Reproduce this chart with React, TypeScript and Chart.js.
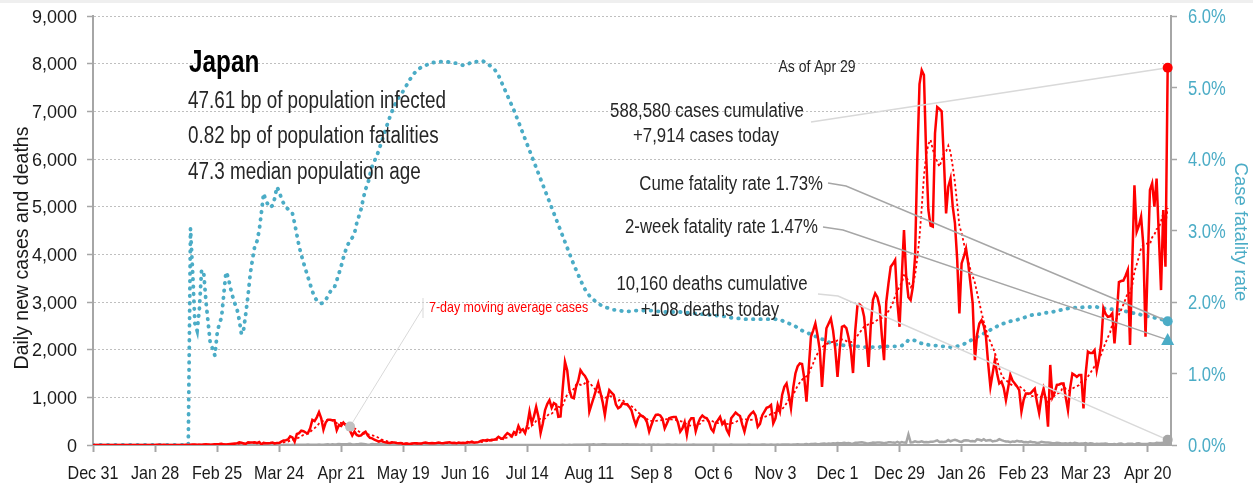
import React, { useEffect, useRef } from "react";
import { Chart, registerables } from "chart.js";

Chart.register(...registerables);

// ---------------- DATA (day 0 = Dec 31, 2019; last day = Apr 29, 2021) ----------------
const TICK_LABELS = [
  "Dec 31", "Jan 28", "Feb 25", "Mar 24", "Apr 21", "May 19", "Jun 16", "Jul 14", "Aug 11",
  "Sep 8", "Oct 6", "Nov 3", "Dec 1", "Dec 29", "Jan 26", "Feb 23", "Mar 23", "Apr 20",
];
const TICK_STEP_DAYS = 28;

// Daily new cases
const DAILY_CASES = [
  0, 0, 0, 0, 0, 0, 0, 0, 0, 0, 0, 0, 0, 0, 0, 0, 0, 0, 0, 0, 0,
  0, 0, 0, 1, 1, 0, 2, 1, 4, 3, 2, 3, 1, 1, 0, 0, 0, 1, 0, 0, 0, 3, 1,
  5, 8, 10, 6, 7, 3, 9, 15, 12, 5, 10, 15, 17, 20, 25, 12, 9,
  14, 19, 25, 30, 34, 57, 47, 33, 26, 59, 54, 52, 55, 41, 64, 15, 44, 39, 35, 41, 53, 34, 43, 40,
  70, 95, 100, 115, 180, 160, 70, 230, 250, 300, 290, 260, 250, 350, 525,
  500, 580, 690, 560, 320, 470, 530, 530, 520, 520,
  310, 420, 400, 470, 420, 380, 300, 200, 280, 210,
  190, 200, 250, 280, 200, 150, 140, 110, 90, 70,
  90, 65, 55, 45, 40, 50, 50, 40, 35, 40,
  20, 30, 25, 20, 30, 35, 35, 30, 30, 45,
  50, 40, 35, 40, 35, 40, 50, 40, 35, 45,
  50, 55, 40, 45, 35, 50, 40, 45, 40, 60,
  55, 70, 50, 55, 60, 85, 100, 95, 110, 95,
  110, 110, 130, 170, 140, 130, 200, 250, 220, 180,
  270, 240, 400, 300, 330, 250, 420, 700, 460, 600,
  800, 600, 250, 450, 730, 860, 940, 780, 880, 850,
  590, 600, 1200, 1745, 1570, 1150, 1000, 980, 1220, 1350,
  1570, 1500, 1450, 1360, 700, 850, 1000, 1150, 1300, 1100,
  900, 630, 950, 1150, 1100, 1050, 850, 770, 800, 880,
  860, 850, 800, 730, 560, 420, 560, 630, 600, 570,
  480, 280, 420, 550, 630, 640, 620, 550, 350, 450,
  560, 580, 590, 590, 470, 280, 350, 480, 210, 490,
  560, 560, 290, 450, 560, 620, 580, 560, 480, 340,
  280, 460, 520, 590, 440, 500, 320, 230, 560, 620,
  680, 640, 610, 430, 280, 480, 600, 660, 700, 620,
  380, 440, 620, 700, 780, 800, 840, 455, 560, 840,
  700, 1050, 1220, 1290, 1050, 770, 1200, 1500, 1650, 1710,
  1700, 1400, 910, 1600, 2270, 2400, 2550, 2300, 1990, 1220,
  1900, 2450, 2550, 2650, 2400, 2000, 1430, 2000, 2480, 2500,
  2450, 2250, 2000, 1510, 2400, 2930, 2950, 2900, 2690, 2200,
  1640, 2500, 3040, 3180, 3100, 2900, 2300, 1780, 3000, 3390,
  3740, 3800, 3880, 3000, 2480, 3530, 4510, 3530, 3100, 3040,
  3320, 3950, 6000, 7570, 7860, 7760, 6100, 4930, 4600, 4580,
  6540, 7090, 7050, 7000, 6000, 4860, 5420, 5590, 5000, 4650,
  3900, 2760, 3810, 3950, 4120, 3800, 3390, 2970, 1780, 2320,
  2550, 2620, 2500, 2270, 1700, 1220, 1500, 1780, 1500, 1290,
  1330, 1200, 940, 1200, 1470, 1350, 1290, 1230, 1150, 700,
  950, 1080, 1080, 1080, 1130, 1180, 900, 670, 1000, 1180,
  940, 385, 1680, 1000, 1100, 1260, 1270, 1290, 1290, 1000,
  730, 1200, 1500, 1470, 1430, 1470, 1470, 770, 1500, 1960,
  1930, 1930, 1990, 1570, 1800, 2130, 2870, 2750, 2690, 2700,
  2760, 2130, 2700, 3420, 3440, 3450, 3550, 3670, 2100, 3800,
  5450, 4470, 4600, 4790, 4200, 2270, 3800, 5350, 5490, 5000,
  5590, 4400, 3250, 4930, 3740, 7914,
];

// Daily new deaths
const DAILY_DEATHS = [
  0, 0, 0, 0, 0, 0, 0, 0, 0, 0, 0, 0, 0, 0, 0, 0, 0, 0, 0, 0, 0, 0,
  0, 0, 0, 0, 0, 0, 0, 0, 0, 0, 0, 0, 0, 0, 0, 0, 0, 0, 0, 0, 0, 0,
  1, 0, 0, 0, 0, 0, 0, 1, 0, 1, 0, 0, 1, 1, 0, 1, 2,
  1, 0, 2, 0, 0, 0, 0, 1, 2, 2, 0, 2, 1, 0, 0, 1, 1, 1, 1, 2, 3, 1, 1, 2, 2, 2, 4, 5, 1, 5, 3,
  4, 6, 3, 5, 3, 8, 5, 4, 5, 6, 10, 6, 5, 9, 13, 7, 16, 12, 14, 20, 18, 15, 18, 21, 27, 12, 9, 17, 19, 26,
  22, 15, 7, 11, 20, 14, 16, 27, 21, 13, 14, 12, 9, 16, 5, 13, 8, 6, 11, 5, 4, 9, 3, 7, 2, 3, 5, 2, 3, 4, 1,
  1, 3, 1, 2, 0, 1, 2, 1, 3, 0, 1, 1, 0, 2, 0, 1, 1, 0, 2, 1, 0, 1, 0, 1, 2, 0, 0, 1, 0, 1,
  1, 0, 2, 0, 0, 1, 2, 0, 1, 1, 0, 0, 1, 0, 2, 1, 0, 0, 1, 1, 0, 0, 1, 1, 2, 0, 1, 2, 2, 3, 1,
  2, 3, 2, 4, 5, 4, 6, 5, 6, 8, 10, 9, 13, 6, 10, 12, 14, 16, 12, 10, 12, 9, 13, 11, 8, 14, 9, 15, 11, 9, 12,
  9, 8, 7, 11, 8, 7, 10, 6, 9, 7, 8, 6, 5, 7, 9, 10, 5, 4, 8, 6, 7, 5, 3, 6, 5, 7, 8, 4, 6, 5,
  6, 4, 7, 5, 3, 6, 8, 5, 7, 4, 6, 5, 7, 8, 5, 6, 3, 4, 7, 5, 6, 8, 5, 6, 4, 7, 6, 9, 8, 7, 6,
  9, 5, 6, 8, 7, 10, 9, 8, 12, 6, 9, 11, 14, 10, 12, 15, 20, 13, 19, 22, 24, 18, 21, 26, 31, 23, 32, 27, 35, 30,
  41, 38, 35, 45, 39, 42, 30, 28, 48, 45, 50, 55, 48, 38, 33, 40, 52, 49, 51, 54, 46, 38, 45, 56, 58, 50, 46, 64, 45, 60, 50,
  48, 220, 55, 59, 76, 65, 64, 78, 59, 62, 60, 70, 66, 80, 98, 64, 70, 64, 72, 104, 78, 97, 108, 95, 73, 65, 93, 98, 97, 77, 82,
  74, 120, 110, 94, 121, 89, 98, 105, 74, 86, 91, 122, 102, 87, 75, 73, 61, 75, 68, 86, 72, 80, 58, 61, 52, 70, 59, 58,
  43, 45, 67, 59, 52, 54, 46, 36, 39, 46, 40, 31, 33, 35, 28, 43, 27, 46, 36, 25, 29, 30, 42, 24, 34, 31, 18, 25, 22, 26, 25,
  33, 20, 17, 17, 21, 13, 24, 29, 18, 12, 28, 25, 25, 10, 31, 37, 20, 22, 22, 22, 35, 34, 30, 45, 41, 40, 47, 55, 108,
];

// Cumulative case fatality rate, percent
const CASE_FATALITY_PCT = [
  0, 0, 0, 0, 0, 0, 0, 0, 0, 0, 0, 0, 0, 0, 0, 0, 0, 0, 0, 0, 0, 0,
  0, 0, 0, 0, 0, 0, 0, 0, 0, 0, 0, 0, 0, 0, 0, 0, 0, 0, 0, 0, 0, 0,
  3.03, 2.4, 1.7, 1.6, 1.9, 2.45,
  2.4, 2.0, 1.7, 1.4, 1.35, 1.25, 1.55, 1.7, 1.78, 2.1,
  2.42, 2.35, 2.2, 2.08, 1.98, 1.9, 1.75, 1.55, 1.62, 1.85,
  2.1, 2.4, 2.6, 2.78, 2.85, 3.0, 3.25, 3.52, 3.42, 3.36,
  3.32, 3.35, 3.45, 3.61, 3.55, 3.45, 3.38, 3.33, 3.3, 3.27,
  3.24, 3.1, 2.94, 2.78, 2.66, 2.55, 2.45, 2.35, 2.25, 2.15,
  2.07, 2.02, 1.99, 1.98, 1.99, 2.03, 2.08, 2.14, 2.19, 2.21,
  2.3, 2.4, 2.5, 2.62, 2.72, 2.8, 2.86, 2.9, 2.96, 3.1,
  3.2, 3.3, 3.45, 3.58, 3.65, 3.78, 3.9, 3.97, 4.04, 4.12,
  4.22, 4.31, 4.41, 4.5, 4.59, 4.67, 4.74, 4.81, 4.86, 4.91,
  4.95, 5.0, 5.06, 5.11, 5.16, 5.2, 5.23, 5.26, 5.28, 5.29,
  5.31, 5.32, 5.34, 5.35, 5.35, 5.36, 5.36, 5.36, 5.36, 5.36,
  5.36, 5.35, 5.35, 5.34, 5.34, 5.33, 5.32, 5.31, 5.31, 5.32,
  5.34, 5.36, 5.36, 5.36, 5.36, 5.37, 5.37, 5.35, 5.33, 5.31,
  5.29, 5.26, 5.22, 5.17, 5.1, 5.03, 4.96, 4.89, 4.82, 4.75,
  4.68, 4.6, 4.52, 4.44, 4.36, 4.28, 4.2, 4.12, 4.04, 3.96,
  3.88, 3.8, 3.72, 3.64, 3.56, 3.48, 3.4, 3.32, 3.24, 3.16,
  3.08, 3.0, 2.92, 2.84, 2.76, 2.68, 2.6, 2.52, 2.45, 2.38,
  2.31, 2.24, 2.18, 2.13, 2.09, 2.06, 2.03, 2.0, 1.98, 1.96,
  1.94, 1.93, 1.92, 1.91, 1.9, 1.89, 1.89, 1.88, 1.88, 1.87,
  1.87, 1.87, 1.87, 1.87, 1.87, 1.88, 1.88, 1.88, 1.88, 1.88,
  1.88, 1.88, 1.88, 1.87, 1.87, 1.87, 1.87, 1.87, 1.86, 1.86,
  1.86, 1.86, 1.86, 1.86, 1.86, 1.86, 1.85, 1.85, 1.85, 1.85,
  1.84, 1.84, 1.84, 1.84, 1.83, 1.83, 1.83, 1.83, 1.82, 1.82,
  1.82, 1.81, 1.81, 1.8, 1.8, 1.8, 1.79, 1.79, 1.78, 1.78,
  1.78, 1.77, 1.77, 1.77, 1.76, 1.76, 1.76, 1.76, 1.76, 1.76,
  1.76, 1.76, 1.76, 1.76, 1.76, 1.76, 1.76, 1.76, 1.76, 1.75,
  1.75, 1.74, 1.72, 1.71, 1.7, 1.69, 1.67, 1.66, 1.64, 1.62,
  1.6, 1.59, 1.58, 1.56, 1.55, 1.54, 1.52, 1.51, 1.5, 1.48,
  1.47, 1.46, 1.44, 1.42, 1.41, 1.41, 1.4, 1.4, 1.4, 1.39,
  1.39, 1.39, 1.39, 1.38, 1.38, 1.38, 1.38, 1.38, 1.37, 1.37,
  1.37, 1.37, 1.37, 1.37, 1.37, 1.37, 1.38, 1.38, 1.38, 1.38,
  1.38, 1.38, 1.38, 1.39, 1.39, 1.39, 1.41, 1.43, 1.47, 1.47,
  1.47, 1.46, 1.44, 1.43, 1.42, 1.41, 1.41, 1.4, 1.4, 1.4,
  1.39, 1.39, 1.39, 1.38, 1.38, 1.37, 1.37, 1.37, 1.37, 1.37,
  1.38, 1.39, 1.4, 1.41, 1.43, 1.44, 1.46, 1.48, 1.5, 1.51,
  1.53, 1.54, 1.56, 1.58, 1.59, 1.61, 1.63, 1.64, 1.66, 1.68,
  1.69, 1.7, 1.71, 1.72, 1.73, 1.74, 1.74, 1.75, 1.76, 1.77,
  1.78, 1.79, 1.8, 1.81, 1.82, 1.82, 1.83, 1.83, 1.84, 1.84,
  1.85, 1.85, 1.86, 1.86, 1.87, 1.87, 1.88, 1.89, 1.89, 1.9,
  1.91, 1.91, 1.91, 1.92, 1.92, 1.92, 1.92, 1.93, 1.93, 1.93,
  1.93, 1.93, 1.93, 1.93, 1.92, 1.92, 1.91, 1.91, 1.91, 1.9,
  1.9, 1.9, 1.89, 1.89, 1.88, 1.88, 1.87, 1.86, 1.86, 1.85,
  1.84, 1.84, 1.83, 1.82, 1.81, 1.81, 1.8, 1.79, 1.78, 1.78,
  1.77, 1.76, 1.76, 1.75, 1.74, 1.73,
];

const TWO_WEEK_CFR_PCT = 1.47;
const AVG_LABEL_DAY = 116;

const TITLE = "Japan";
const STATS = [
  "47.61 bp of population infected",
  "0.82 bp of population fatalities",
  "47.3 median population age",
];
const AS_OF = "As of Apr 29";
const CASES_NOTE = ["588,580 cases cumulative", "+7,914 cases today"];
const CUME_NOTE = "Cume fatality rate 1.73%";
const TWO_WEEK_NOTE = "2-week fatality rate 1.47%";
const DEATHS_NOTE = ["10,160 deaths cumulative", "+108 deaths today"];
const AVG_NOTE = "7-day moving average cases";
const LEFT_TITLE = "Daily new cases and deaths";
const RIGHT_TITLE = "Case fatality rate";

// ---------------- STYLE ----------------
const FONT = "'Liberation Sans', Arial, sans-serif";
const RED = "#ff0000";
const BLUE = "#4bacc6";
const GRAY = "#a6a6a6";
const LIGHT = "#d9d9d9";
const TEXT = "#262626";
const INK = "#1a1a1a";

function sevenDayAverage(values: number[]): number[] {
  return values.map((_, i) => {
    const from = Math.max(0, i - 6);
    const win = values.slice(from, i + 1);
    return win.reduce((a, b) => a + b, 0) / win.length;
  });
}

type TextOpts = { size: number; align?: string; color?: string; weight?: string; sx?: number; rot?: number };

function drawText(ctx: any, s: string, x: number, y: number, o: TextOpts) {
  ctx.save();
  ctx.font = `${o.weight || "normal"} ${o.size}px ${FONT}`;
  ctx.fillStyle = o.color || TEXT;
  ctx.textAlign = o.align || "left";
  ctx.textBaseline = "alphabetic";
  ctx.translate(x, y);
  if (o.rot) ctx.rotate(o.rot);
  ctx.scale(o.sx || 1, 1);
  ctx.fillText(s, 0, 0);
  ctx.restore();
}

const annotationPlugin = {
  id: "annotations",
  beforeDraw(chart: any) {
    const { ctx, width } = chart;
    ctx.save();
    ctx.fillStyle = "#efefef";
    ctx.fillRect(0, 0, width, 3);
    ctx.restore();
  },
  afterDraw(chart: any) {
    const { ctx } = chart;
    const xs = chart.scales.x;
    const ys = chart.scales.y;
    const y1 = chart.scales.y1;
    const last = DAILY_CASES.length - 1;
    const avg = sevenDayAverage(DAILY_CASES);

    // tick labels
    xs.ticks.forEach((t: any, i: number) => {
      drawText(ctx, TICK_LABELS[i], xs.getPixelForValue(t.value), 479, { size: 18.5, align: "center", color: INK, sx: 0.87 });
    });
    ys.ticks.forEach((t: any) => {
      drawText(ctx, Number(t.value).toLocaleString("en-US"), 77, ys.getPixelForValue(t.value) + 6.5, { size: 18, align: "right", color: INK });
    });
    y1.ticks.forEach((t: any) => {
      drawText(ctx, Number(t.value).toFixed(1) + "%", 1188, y1.getPixelForValue(t.value) + 7, { size: 19.5, align: "left", color: BLUE, sx: 0.85 });
    });

    const redDot = { x: xs.getPixelForValue(last), y: ys.getPixelForValue(DAILY_CASES[last]) };
    const cfrDot = { x: xs.getPixelForValue(last), y: y1.getPixelForValue(CASE_FATALITY_PCT[last]) };
    const triDot = { x: xs.getPixelForValue(last), y: y1.getPixelForValue(TWO_WEEK_CFR_PCT) };
    const deathDot = { x: xs.getPixelForValue(last), y: ys.getPixelForValue(DAILY_DEATHS[last]) };
    const avgDot = { x: xs.getPixelForValue(AVG_LABEL_DAY), y: ys.getPixelForValue(avg[AVG_LABEL_DAY]) };

    const line = (pts: number[][], color: string, w = 1.5) => {
      ctx.save();
      ctx.strokeStyle = color;
      ctx.lineWidth = w;
      ctx.beginPath();
      ctx.moveTo(pts[0][0], pts[0][1]);
      for (let i = 1; i < pts.length; i++) ctx.lineTo(pts[i][0], pts[i][1]);
      ctx.stroke();
      ctx.restore();
    };

    // leader lines
    line([[811, 122], [redDot.x, redDot.y]], LIGHT);
    line([[828, 183], [846, 186], [cfrDot.x, cfrDot.y]], GRAY);
    line([[823, 227], [843, 230], [triDot.x, triDot.y]], GRAY);
    line([[818, 294], [838, 296], [deathDot.x, deathDot.y]], LIGHT);
    line([[avgDot.x, avgDot.y], [423, 308]], LIGHT, 1);
    line([[423, 298], [423, 318]], LIGHT, 1);

    const circle = (p: any, r: number, color: string) => {
      ctx.save();
      ctx.fillStyle = color;
      ctx.beginPath();
      ctx.arc(p.x, p.y, r, 0, Math.PI * 2);
      ctx.fill();
      ctx.restore();
    };
    circle(avgDot, 5, "#c0c0c0");
    circle(deathDot, 5, GRAY);
    circle(cfrDot, 5, BLUE);
    circle(redDot, 5, RED);
    ctx.save();
    ctx.fillStyle = BLUE;
    ctx.beginPath();
    ctx.moveTo(triDot.x, triDot.y - 7);
    ctx.lineTo(triDot.x + 6.5, triDot.y + 5);
    ctx.lineTo(triDot.x - 6.5, triDot.y + 5);
    ctx.closePath();
    ctx.fill();
    ctx.restore();

    drawText(ctx, TITLE, 189, 72, { size: 32, weight: "bold", color: "#000", sx: 0.76 });
    drawText(ctx, STATS[0], 188, 108, { size: 23, sx: 0.82 });
    drawText(ctx, STATS[1], 188, 143, { size: 23, sx: 0.82 });
    drawText(ctx, STATS[2], 188, 179, { size: 23, sx: 0.82 });

    drawText(ctx, AS_OF, 817, 72, { size: 16.5, align: "center", sx: 0.85 });
    drawText(ctx, CASES_NOTE[0], 707, 117, { size: 19.5, align: "center", sx: 0.86 });
    drawText(ctx, CASES_NOTE[1], 706, 142, { size: 19.5, align: "center", sx: 0.86 });
    drawText(ctx, CUME_NOTE, 823, 190, { size: 19.5, align: "right", sx: 0.86 });
    drawText(ctx, TWO_WEEK_NOTE, 818, 233, { size: 19.5, align: "right", sx: 0.86 });
    drawText(ctx, DEATHS_NOTE[0], 712, 290, { size: 19.5, align: "center", sx: 0.86 });
    drawText(ctx, DEATHS_NOTE[1], 710, 316, { size: 19.5, align: "center", sx: 0.86 });
    drawText(ctx, AVG_NOTE, 429, 312, { size: 15, color: RED, sx: 0.83 });

    // axis titles
    drawText(ctx, LEFT_TITLE, 28, 248, { size: 19.5, align: "center", color: INK, rot: -Math.PI / 2 });
    drawText(ctx, RIGHT_TITLE, 1235, 232, { size: 18.5, align: "center", color: BLUE, rot: Math.PI / 2 });
  },
};

export default function App() {
  const ref = useRef<HTMLCanvasElement | null>(null);

  useEffect(() => {
    document.body.style.margin = "0";
    const canvas = ref.current;
    if (!canvas) return;

    const avg = sevenDayAverage(DAILY_CASES);
    const toXY = (arr: number[]) => arr.map((v, i) => ({ x: i, y: v }));

    const chart = new Chart(canvas, {
      type: "line",
      data: {
        datasets: [
          {
            label: "Daily cases",
            data: toXY(DAILY_CASES),
            borderColor: RED,
            borderWidth: 2.5,
            pointRadius: 0,
            tension: 0,
            yAxisID: "y",
            order: 1,
          },
          {
            label: "7-day average",
            data: toXY(avg),
            borderColor: RED,
            borderWidth: 1.8,
            borderDash: [2.5, 2.5],
            pointRadius: 0,
            tension: 0,
            yAxisID: "y",
            order: 2,
          },
          {
            label: "Case fatality rate",
            data: toXY(CASE_FATALITY_PCT),
            borderColor: BLUE,
            borderWidth: 3.8,
            borderDash: [0.5, 6.9],
            borderCapStyle: "round",
            pointRadius: 0,
            tension: 0,
            yAxisID: "y1",
            order: 3,
          },
          {
            label: "Daily deaths",
            data: toXY(DAILY_DEATHS),
            borderColor: GRAY,
            borderWidth: 2.5,
            pointRadius: 0,
            tension: 0,
            yAxisID: "y",
            order: 4,
          },
        ],
      },
      options: {
        responsive: false,
        animation: false,
        events: [],
        layout: { padding: { top: 16, left: 0, right: 0, bottom: 0 } },
        plugins: { legend: { display: false }, tooltip: { enabled: false } },
        scales: {
          x: {
            type: "linear",
            min: 0,
            max: 486.5,
            afterBuildTicks: (scale: any) => {
              scale.ticks = TICK_LABELS.map((_, i) => ({ value: i * TICK_STEP_DAYS }));
            },
            afterFit: (scale: any) => {
              scale.height = 39;
            },
            ticks: { display: false },
            grid: {
              drawOnChartArea: false,
              drawTicks: true,
              tickLength: 7,
              tickColor: GRAY,
              tickWidth: 2,
            },
            border: { color: GRAY, width: 2 },
          },
          y: {
            position: "left",
            min: 0,
            max: 9000,
            afterFit: (scale: any) => {
              scale.width = 93;
            },
            ticks: { stepSize: 1000, display: false },
            grid: {
              color: "#bfbfbf",
              lineWidth: 1,
              drawTicks: true,
              tickLength: 6,
              tickColor: GRAY,
              tickWidth: 1.5,
              tickBorderDash: [],
            },
            border: { color: GRAY, width: 2, dash: [2, 2] },
          },
          y1: {
            position: "right",
            min: 0,
            max: 6,
            afterFit: (scale: any) => {
              scale.width = 82;
            },
            ticks: { stepSize: 1, display: false },
            grid: {
              drawOnChartArea: false,
              drawTicks: true,
              tickLength: 6,
              tickColor: GRAY,
              tickWidth: 1.5,
            },
            border: { color: GRAY, width: 2 },
          },
        },
      },
      plugins: [annotationPlugin],
    } as any);

    return () => chart.destroy();
  }, []);

  return (
    <div style={{ position: "absolute", left: 0, top: 0, width: 1253, height: 484, background: "#fff" }}>
      <canvas ref={ref} width={1253} height={484} style={{ display: "block" }} />
    </div>
  );
}
